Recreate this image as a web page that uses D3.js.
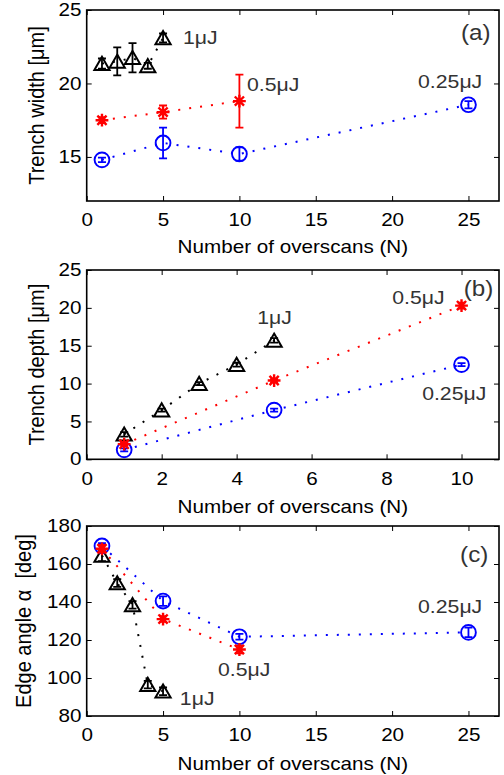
<!DOCTYPE html>
<html>
<head>
<meta charset="utf-8">
<script src="https://cdn.jsdelivr.net/npm/d3@7"></script>
<style>
  html, body { margin: 0; padding: 0; background: #fff; }
  svg { display: block; font-family: "Liberation Sans", Arial, sans-serif; }
</style>
</head>
<body>
<svg id="chart" width="504" height="775"></svg>
<script>
// ---- (a) trench width vs number of overscans ----
const widthN_1uJ = [1, 2, 3, 4, 5];
const width_1uJ = [21.35, 21.5, 21.75, 21.2, 23.1];
const widthErr_1uJ = [0.35, 0.95, 1.0, 0.2, 0.3];
const widthN_05uJ = [1, 5, 10];
const width_05uJ = [17.5, 18.05, 18.8];
const widthErr_05uJ = [0.2, 0.45, 1.8];
const widthN_025uJ = [1, 5, 10, 25];
const width_025uJ = [14.8, 15.95, 15.2, 18.55];
const widthErr_025uJ = [0.15, 1.05, 0.45, 0.25];

// ---- (b) trench depth ----
const depthN_1uJ = [1, 2, 3, 4, 5];
const depth_1uJ = [3.3, 6.5, 10.0, 12.5, 15.7];
const depthErr_1uJ = [0.3, 0.2, 0.2, 0.25, 0.3];
const depthN_05uJ = [1, 5, 10];
const depth_05uJ = [2.0, 10.4, 20.3];
const depthErr_05uJ = [0.2, 0.2, 0.4];
const depthN_025uJ = [1, 5, 10];
const depth_025uJ = [1.25, 6.5, 12.5];
const depthErr_025uJ = [0.2, 0.2, 0.2];

// ---- (c) edge angle ----
const angleN_1uJ = [1, 2, 3, 4, 5];
const angle_1uJ = [164.5, 150, 138.5, 96.5, 93];
const angleErr_1uJ = [3, 2, 2, 2, 2];
const angleN_05uJ = [1, 5, 10];
const angle_05uJ = [168, 131, 115];
const angleErr_05uJ = [2, 1.5, 2];
const angleN_025uJ = [1, 5, 10, 25];
const angle_025uJ = [169.5, 140.5, 121.7, 124];
const angleErr_025uJ = [1.5, 2.5, 1.5, 2.5];

// ---- axis ticks ----
const ticksX_a = [0, 5, 10, 15, 20, 25];
const ticksY_a = [15, 20, 25];
const ticksX_b = [0, 2, 4, 6, 8, 10];
const ticksY_b = [0, 5, 10, 15, 20, 25];
const ticksX_c = [0, 5, 10, 15, 20, 25];
const ticksY_c = [80, 100, 120, 140, 160, 180];

const xTitle = "Number of overscans (N)";

const svg = d3.select("#chart");
svg.append("rect").attr("width", 504).attr("height", 775).attr("fill", "#fff");

const SX = 1.18;        // horizontal stretch of the lettering
const LEFT = 86.7, RIGHT = 499;
const TICK_FONT = 17.5, LABEL_FONT = 20, NOTE_FONT = 18;
const NOTE_COLOR = "#333";

const styles = {
  "1uJ":   { color: "#000",    marker: "triangle" },
  "05uJ":  { color: "#ff0000", marker: "star" },
  "025uJ": { color: "#0000ff", marker: "circle" }
};

function markerPath(kind) {
  if (kind === "triangle") return "M0,-6.8L7.6,6.3L-7.6,6.3Z";
  if (kind === "star") {
    const s = 6.4, d = 4.6;
    return `M${-s},0H${s}M0,${-s}V${s}M${-d},${-d}L${d},${d}M${-d},${d}L${d},${-d}`;
  }
  return null;
}

function stretchedText(g, x, y, str, opts = {}) {
  const sx = opts.sx || SX;
  const rot = opts.rotate ? " rotate(-90)" : "";
  return g.append("text")
    .attr("transform", `translate(${x},${y}) scale(${sx},1)${rot}`)
    .attr("text-anchor", opts.anchor || "start")
    .attr("dy", opts.dy || "0.35em")
    .attr("font-size", opts.size || NOTE_FONT)
    .attr("fill", opts.color || "#000")
    .style("white-space", "pre")
    .text(str);
}

function drawPanel(p) {
  const g = svg.append("g");
  const x = d3.scaleLinear().domain(p.xDomain).range([LEFT, RIGHT]);
  const y = d3.scaleLinear().domain(p.yDomain).range([p.bottom, p.top]);

  // axes with inward ticks on all four sides
  const bottomAxis = d3.axisBottom(x).tickValues(p.xTicks).tickSizeInner(-5).tickSizeOuter(0).tickPadding(13);
  const leftAxis = d3.axisLeft(y).tickValues(p.yTicks).tickSizeInner(-5).tickSizeOuter(0).tickPadding(4.5);
  const topAxis = d3.axisTop(x).tickValues(p.xTicks).tickSizeInner(-5).tickSizeOuter(0).tickFormat("");
  const rightAxis = d3.axisRight(y).tickValues(p.yTicks).tickSizeInner(-5).tickSizeOuter(0).tickFormat("");

  const gb = g.append("g").attr("transform", `translate(0,${p.bottom})`).call(bottomAxis);
  const gl = g.append("g").attr("transform", `translate(${LEFT},0)`).call(leftAxis);
  g.append("g").attr("transform", `translate(0,${p.top})`).call(topAxis);
  g.append("g").attr("transform", `translate(${RIGHT},0)`).call(rightAxis);
  g.selectAll(".domain").remove();
  g.selectAll(".tick line").attr("stroke", "#000").attr("stroke-width", 1);
  [gb, gl].forEach(a => a.selectAll(".tick text")
    .attr("font-size", TICK_FONT)
    .attr("font-family", "Liberation Sans, Arial, sans-serif")
    .attr("fill", "#000")
    .attr("transform", `scale(${SX},1)`));

  g.append("rect")
    .attr("x", LEFT).attr("y", p.top)
    .attr("width", RIGHT - LEFT).attr("height", p.bottom - p.top)
    .attr("fill", "none").attr("stroke", "#000").attr("stroke-width", 1.6);

  // series: dotted connecting line, error bars, markers
  p.series.forEach(s => {
    const st = styles[s.key];
    const pts = s.n.map((n, i) => ({ n, v: s.v[i], e: s.e[i] }));
    g.append("path")
      .datum(pts)
      .attr("fill", "none")
      .attr("stroke", st.color)
      .attr("stroke-width", 2)
      .attr("stroke-dasharray", "2,9")
      .attr("d", d3.line().x(d => x(d.n)).y(d => y(d.v)));

    const bars = g.append("g").attr("stroke", st.color).attr("stroke-width", 1.8).attr("fill", "none");
    pts.forEach(d => {
      const cx = x(d.n), y0 = y(d.v - d.e), y1 = y(d.v + d.e), cap = 4;
      bars.append("path").attr("d",
        `M${cx},${y0}V${y1}M${cx - cap},${y0}H${cx + cap}M${cx - cap},${y1}H${cx + cap}`);
    });

    const mk = g.append("g").attr("stroke", st.color).attr("fill", "none");
    pts.forEach(d => {
      if (st.marker === "circle") {
        mk.append("circle").attr("cx", x(d.n)).attr("cy", y(d.v)).attr("r", 7.4).attr("stroke-width", 1.9);
      } else {
        mk.append("path")
          .attr("transform", `translate(${x(d.n)},${y(d.v)})`)
          .attr("stroke-width", st.marker === "star" ? 2.4 : 2)
          .attr("stroke-linejoin", "miter")
          .attr("d", markerPath(st.marker));
      }
    });
  });

  // energy annotations and panel tag
  p.notes.forEach(nt => {
    stretchedText(g, x(nt.n), y(nt.v), nt.text, { color: NOTE_COLOR, size: NOTE_FONT });
  });
  stretchedText(g, x(p.tag.n), y(p.tag.v), p.tag.text, { color: NOTE_COLOR, size: 22, sx: 1.1, anchor: "end" });

  // axis titles
  stretchedText(g, (LEFT + RIGHT) / 2, p.xTitleY, xTitle, { size: TICK_FONT, anchor: "middle" });
  stretchedText(g, p.yTitleX, (p.top + p.bottom) / 2, p.yTitle,
    { size: LABEL_FONT, anchor: "middle", rotate: true, sx: 1.12, dy: "0" });
}

drawPanel({
  top: 10, bottom: 201, xDomain: [0, 27], yDomain: [12, 25],
  xTicks: ticksX_a, yTicks: ticksY_a, xTitleY: 247, yTitleX: 43.5,
  yTitle: "Trench width [μm]",
  series: [
    { key: "1uJ", n: widthN_1uJ, v: width_1uJ, e: widthErr_1uJ },
    { key: "025uJ", n: widthN_025uJ, v: width_025uJ, e: widthErr_025uJ },
    { key: "05uJ", n: widthN_05uJ, v: width_05uJ, e: widthErr_05uJ }
  ],
  notes: [
    { n: 6.3, v: 23.1, text: "1μJ" },
    { n: 10.5, v: 19.9, text: "0.5μJ" },
    { n: 21.7, v: 20.1, text: "0.25μJ" }
  ],
  tag: { n: 26.45, v: 23.45, text: "(a)" }
});

drawPanel({
  top: 270, bottom: 459.3, xDomain: [0, 11], yDomain: [0, 25],
  xTicks: ticksX_b, yTicks: ticksY_b, xTitleY: 507, yTitleX: 43.5,
  yTitle: "Trench depth [μm]",
  series: [
    { key: "1uJ", n: depthN_1uJ, v: depth_1uJ, e: depthErr_1uJ },
    { key: "025uJ", n: depthN_025uJ, v: depth_025uJ, e: depthErr_025uJ },
    { key: "05uJ", n: depthN_05uJ, v: depth_05uJ, e: depthErr_05uJ }
  ],
  notes: [
    { n: 4.55, v: 18.7, text: "1μJ" },
    { n: 8.15, v: 21.3, text: "0.5μJ" },
    { n: 8.95, v: 8.6, text: "0.25μJ" }
  ],
  tag: { n: 10.85, v: 22.6, text: "(b)" }
});

drawPanel({
  top: 526, bottom: 716, xDomain: [0, 27], yDomain: [80, 180],
  xTicks: ticksX_c, yTicks: ticksY_c, xTitleY: 764, yTitleX: 30.5,
  yTitle: "Edge angle α  [deg]",
  series: [
    { key: "1uJ", n: angleN_1uJ, v: angle_1uJ, e: angleErr_1uJ },
    { key: "025uJ", n: angleN_025uJ, v: angle_025uJ, e: angleErr_025uJ },
    { key: "05uJ", n: angleN_05uJ, v: angle_05uJ, e: angleErr_05uJ }
  ],
  notes: [
    { n: 21.7, v: 137.5, text: "0.25μJ" },
    { n: 8.6, v: 104.2, text: "0.5μJ" },
    { n: 6.1, v: 89.3, text: "1μJ" }
  ],
  tag: { n: 26.3, v: 165, text: "(c)" }
});
</script>
</body>
</html>
